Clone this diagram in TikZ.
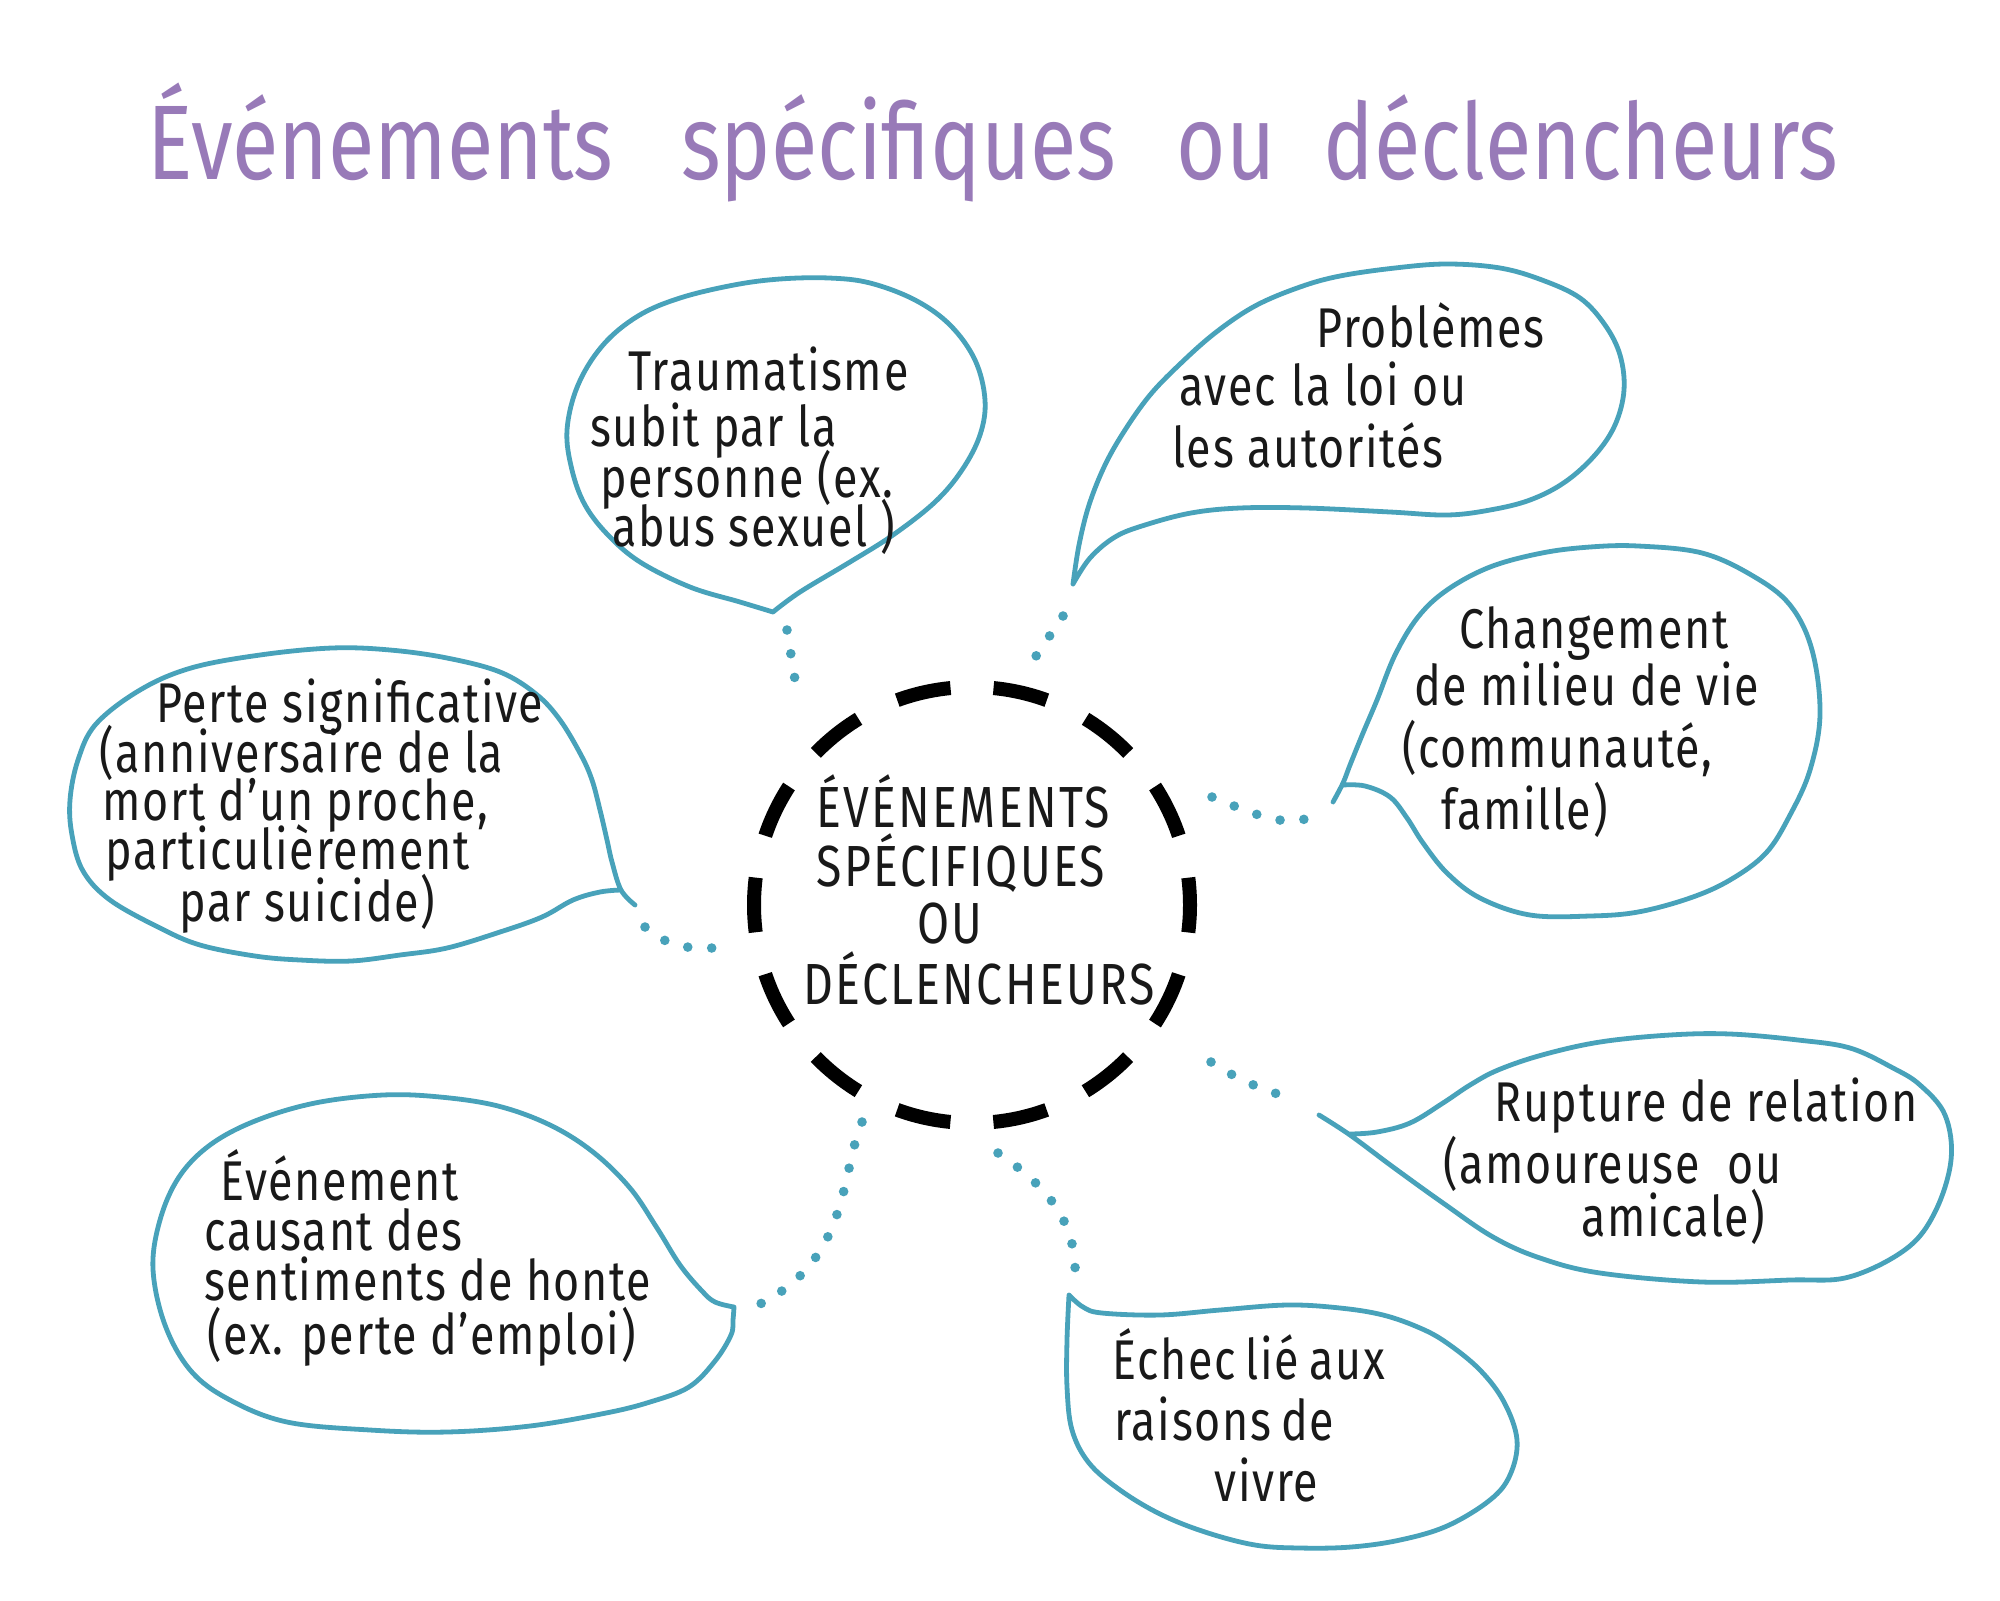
\documentclass[tikz,border=0pt]{standalone}
\usepackage{fontspec}
\setmainfont{Fira Sans}[FakeStretch=0.8]
\definecolor{tealline}{RGB}{72,162,186}
\definecolor{lav}{RGB}{152,122,184}
\definecolor{ink}{RGB}{25,25,25}
\begin{document}
\begin{tikzpicture}[x=0.5pt,y=-0.5pt,
  bubble/.style={draw=tealline, line width=2.4pt, line join=round, line cap=round},
  dotline/.style={draw=tealline, line width=4.8pt, line cap=round, dash pattern=on 0pt off 12pt},
  hw/.style={anchor=base west, inner sep=0pt, text=ink, font=\fontsize{28}{32}\selectfont\addfontfeature{LetterSpace=3}},
  capline/.style={anchor=base, inner sep=0pt, text=ink, font=\fontsize{29}{34}\selectfont\addfontfeature{LetterSpace=4}},
  hub/.style={circle, draw=black, line width=7pt, minimum size=218pt, inner sep=0pt,
              dash pattern=on 27.4pt off 21.52pt, dash phase=13.7pt}]
\useasboundingbox (0,0) rectangle (2000,1600);
\fill[white] (0,0) rectangle (2000,1600);

% title
\node[anchor=base west, inner sep=0pt, text=lav, font=\fontsize{53}{60}\selectfont] (title) at (147,179)
  {Événements\hspace{34pt}spécifiques\hspace{30pt}ou\hspace{24pt}déclencheurs};

% central hub
\node[hub] (hub) at (972,905) {};
\node[capline] (c1) at (963,827) {ÉVÉNEMENTS};
\node[capline] (c2) at (961,886) {SPÉCIFIQUES};
\node[capline] (c3) at (950,943) {OU};
\node[capline] (c4) at (979,1004) {DÉCLENCHEURS};

% bubble 1 : Traumatisme
\draw[bubble] plot[smooth, tension=0.6] coordinates {(773,612) (800,592) (850,562) (893,535) (935,502) (962,470) (980,435) (985,400) (975,360) (950,325) (915,300) (870,283) (829,278) (780,279) (734,285) (680,298) (638,316) (603,345) (578,385) (567,430) (572,470) (585,505) (608,535) (640,562) (690,587) (740,602) (773,612)};
\node[hw] (t1a) at (628,390) {Traumatisme};
\node[hw] (t1b) at (590,446) {subit par la};
\node[hw] (t1c) at (600,497) {personne (ex.};
\node[hw] (t1d) at (612,546) {abus sexuel )};

% bubble 2 : Problèmes
\draw[bubble] plot[smooth, tension=0.6] coordinates {(1073,584) (1079,545) (1089,505) (1105,465) (1125,430) (1150,395) (1179,365) (1215,333) (1255,306) (1300,287) (1340,276) (1395,268) (1447,264) (1500,268) (1542,280) (1580,298) (1605,325) (1620,355) (1624,390) (1615,425) (1595,455) (1565,482) (1530,500) (1490,510) (1447,515) (1390,512) (1306,508) (1240,508) (1191,513) (1145,525) (1115,537) (1090,558) (1073,584)};
\node[hw] (t2a) at (1316,347) {Problèmes};
\node[hw] (t2b) at (1179,405) {avec\hspace{8pt}la loi ou};
\node[hw] (t2c) at (1172,467) {les autorités};

% bubble 3 : Changement
\draw[bubble] plot[smooth, tension=0.6] coordinates {(1333,802) (1343,783) (1350,765) (1363,733) (1377,700) (1395,655) (1418,617) (1447,590) (1490,567) (1542,553) (1590,547) (1638,546) (1702,553) (1753,576) (1790,605) (1812,650) (1820,714) (1810,770) (1790,815) (1766,853) (1730,880) (1690,898) (1638,912) (1590,916) (1530,915) (1480,898) (1447,873) (1423,843) (1407,818) (1390,797) (1365,786) (1343,785)};
\node[hw] (t3a) at (1459,648) {Changement};
\node[hw] (t3b) at (1414,705) {de milieu de vie};
\node[hw] (t3c) at (1402,767) {(communauté,};
\node[hw] (t3d) at (1441,829) {famille)};

% bubble 4 : Rupture
\draw[bubble] plot[smooth, tension=0.6] coordinates {(1319,1115) (1350,1135) (1393,1167) (1443,1203) (1493,1237) (1540,1258) (1600,1273) (1702,1282) (1790,1280) (1849,1277) (1906,1249) (1935,1212) (1951,1160) (1945,1115) (1920,1085) (1893,1068) (1850,1048) (1798,1040) (1730,1034) (1670,1035) (1600,1042) (1542,1055) (1498,1070) (1470,1085) (1443,1103) (1410,1123) (1377,1132) (1350,1134)};
\node[hw] (t4a) at (1494,1121) {Rupture de relation};
\node[hw] (t4b) at (1443,1183) {(amoureuse\hspace{14pt}ou};
\node[hw] (t4c) at (1581,1236) {amicale)};

% bubble 5 : Échec
\draw[bubble] plot[smooth, tension=0.6] coordinates {(1069,1295) (1083,1307) (1102,1313) (1160,1315) (1220,1310) (1287,1305) (1340,1308) (1383,1315) (1420,1328) (1447,1343) (1480,1370) (1504,1402) (1517,1440) (1510,1475) (1490,1500) (1447,1526) (1400,1540) (1351,1547) (1300,1548) (1255,1545) (1205,1532) (1160,1514) (1120,1490) (1089,1463) (1072,1430) (1067,1387) (1067,1340) (1069,1295)};
\node[hw] (t5a) at (1112,1379) {Échec\hspace{5pt}lié\hspace{5pt}aux};
\node[hw] (t5b) at (1114,1440) {raisons\hspace{5pt}de};
\node[hw] (t5c) at (1214,1501) {vivre};

% bubble 6 : Événement
\draw[bubble] plot[smooth, tension=0.6] coordinates {(734,1307) (733,1320) (731,1335) (715,1361) (689,1387) (650,1402) (606,1413) (530,1426) (447,1432) (370,1430) (287,1422) (230,1400) (191,1371) (165,1325) (153,1269) (160,1220) (179,1177) (210,1145) (255,1121) (315,1103) (383,1095) (440,1097) (498,1106) (550,1125) (593,1152) (630,1188) (657,1228) (680,1265) (702,1291) (715,1302) (734,1307)};
\node[hw] (t6a) at (220,1200) {Événement};
\node[hw] (t6b) at (204,1250) {causant des};
\node[hw] (t6c) at (204,1300) {sentiments de honte};
\node[hw] (t6d) at (207,1354) {(ex. perte d'emploi)};

% bubble 7 : Perte
\draw[bubble] plot[smooth, tension=0.6] coordinates {(635,905) (621,890) (612,862) (607,840) (600,810) (592,780) (581,755) (560,720) (536,694) (500,672) (447,658) (390,650) (332,648) (260,655) (191,668) (140,690) (96,724) (78,760) (70,800) (72,835) (83,871) (110,900) (160,928) (200,945) (255,956) (300,960) (351,961) (400,955) (447,948) (500,932) (542,917) (573,900) (600,892) (621,890)};
\node[hw] (t7a) at (156,722) {Perte significative};
\node[hw] (t7b) at (99,772) {(anniversaire de la};
\node[hw] (t7c) at (102,820) {mort d'un proche,};
\node[hw] (t7d) at (105,869) {particulièrement};
\node[hw] (t7e) at (179,921) {par suicide)};

% dotted connectors
\coordinate (d1a) at (787,630); \coordinate (d1b) at (795,680);
\coordinate (d2a) at (1063,616); \coordinate (d2b) at (1030,665);
\coordinate (d3a) at (1212,797); \coordinate (d3b) at (1310,817);
\coordinate (d4a) at (1211,1062); \coordinate (d4b) at (1288,1097);
\coordinate (d5a) at (998,1153); \coordinate (d5b) at (1075,1280);
\coordinate (d6a) at (862,1122); \coordinate (d6b) at (758,1305);
\coordinate (d7a) at (645,927); \coordinate (d7b) at (712,948);
\draw[dotline] (d1a) -- (d1b);
\draw[dotline] (d2a) -- (d2b);
\draw[dotline] (d3a) .. controls (1240,808) and (1285,830) .. (d3b);
\draw[dotline] (d4a) .. controls (1235,1078) and (1262,1090) .. (d4b);
\draw[dotline] (d5a) .. controls (1045,1185) and (1078,1220) .. (d5b);
\draw[dotline] (d6a) .. controls (840,1175) and (850,1260) .. (d6b);
\draw[dotline] (d7a) .. controls (660,942) and (685,950) .. (d7b);
\end{tikzpicture}
\end{document}
